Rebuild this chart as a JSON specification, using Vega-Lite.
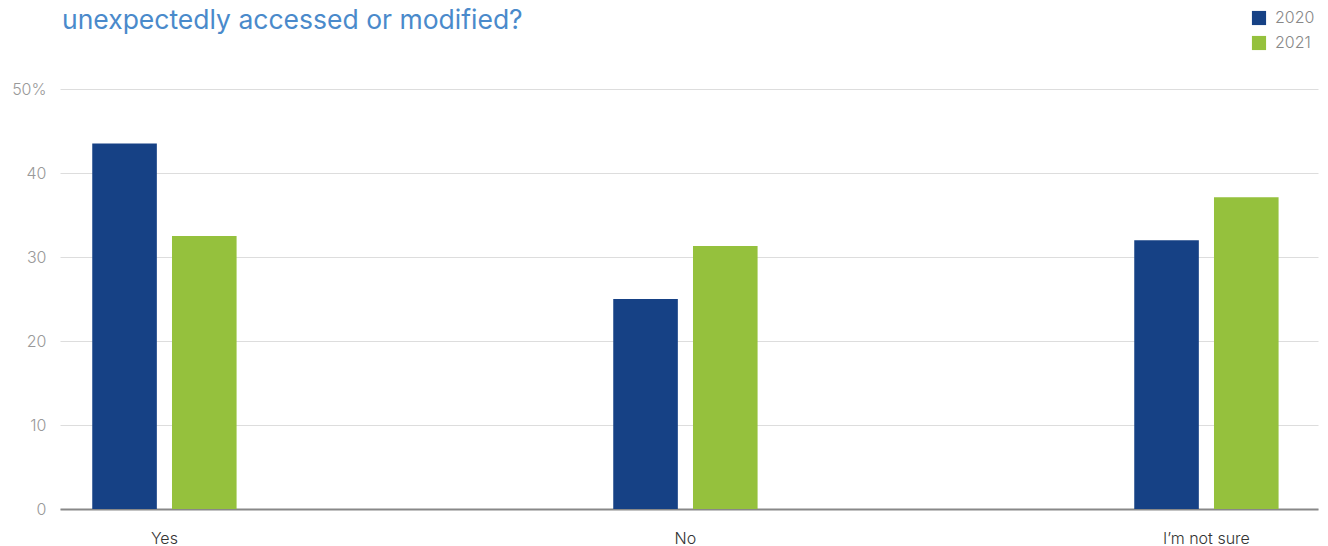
{
  "$schema": "https://vega.github.io/schema/vega-lite/v6.json",
  "width": 1258,
  "height": 420,
  "autosize": {"type": "none"},
  "padding": {"left": 60, "top": 89, "right": 10, "bottom": 37},
  "title": {
    "text": "unexpectedly accessed or modified?",
    "anchor": "start",
    "frame": "group",
    "orient": "top",
    "offset": -24,
    "dx": 2,
    "font": "Inter",
    "fontSize": 26.5,
    "fontWeight": 400,
    "color": "#4a8acb"
  },
  "data": {
    "values": [
      {"answer": "Yes", "year": "2020", "pct": 43.5},
      {"answer": "Yes", "year": "2021", "pct": 32.5},
      {"answer": "No", "year": "2020", "pct": 25.0},
      {"answer": "No", "year": "2021", "pct": 31.3},
      {"answer": "I’m not sure", "year": "2020", "pct": 32.0},
      {"answer": "I’m not sure", "year": "2021", "pct": 37.1}
    ]
  },
  "mark": {"type": "bar"},
  "encoding": {
    "x": {
      "field": "answer",
      "type": "nominal",
      "sort": ["Yes", "No", "I’m not sure"],
      "scale": {"paddingInner": 0.7, "paddingOuter": 0.0573, "align": 0.44},
      "axis": {
        "title": null,
        "labelAngle": 0,
        "labelFont": "Inter",
        "labelFontSize": 16,
        "labelFontWeight": 300,
        "labelColor": "#333333",
        "labelPadding": 21,
        "ticks": false,
        "domainColor": "#888888",
        "domainWidth": 2,
        "grid": false
      }
    },
    "xOffset": {
      "field": "year",
      "type": "nominal",
      "scale": {"paddingInner": 0.19, "paddingOuter": 0.075}
    },
    "y": {
      "field": "pct",
      "type": "quantitative",
      "scale": {"domain": [0, 50]},
      "axis": {
        "title": null,
        "values": [0, 10, 20, 30, 40, 50],
        "labelExpr": "datum.value == 50 ? '50%' : datum.label",
        "labelFont": "Inter",
        "labelFontSize": 16,
        "labelFontWeight": 300,
        "labelColor": "#999999",
        "labelPadding": 14,
        "ticks": false,
        "domain": false,
        "grid": true,
        "gridColor": "#dddddd",
        "gridWidth": 1
      }
    },
    "color": {
      "field": "year",
      "type": "nominal",
      "scale": {"domain": ["2020", "2021"], "range": ["#164185", "#95c13d"]},
      "legend": {
        "title": null,
        "orient": "none",
        "legendX": 1191,
        "legendY": -79,
        "symbolType": "square",
        "symbolSize": 200,
        "symbolStrokeWidth": 0,
        "symbolOpacity": 1,
        "labelFont": "Inter",
        "labelFontSize": 16,
        "labelFontWeight": 300,
        "labelColor": "#888888",
        "labelOffset": 8,
        "rowPadding": 9
      }
    }
  },
  "config": {"view": {"stroke": null}}
}
